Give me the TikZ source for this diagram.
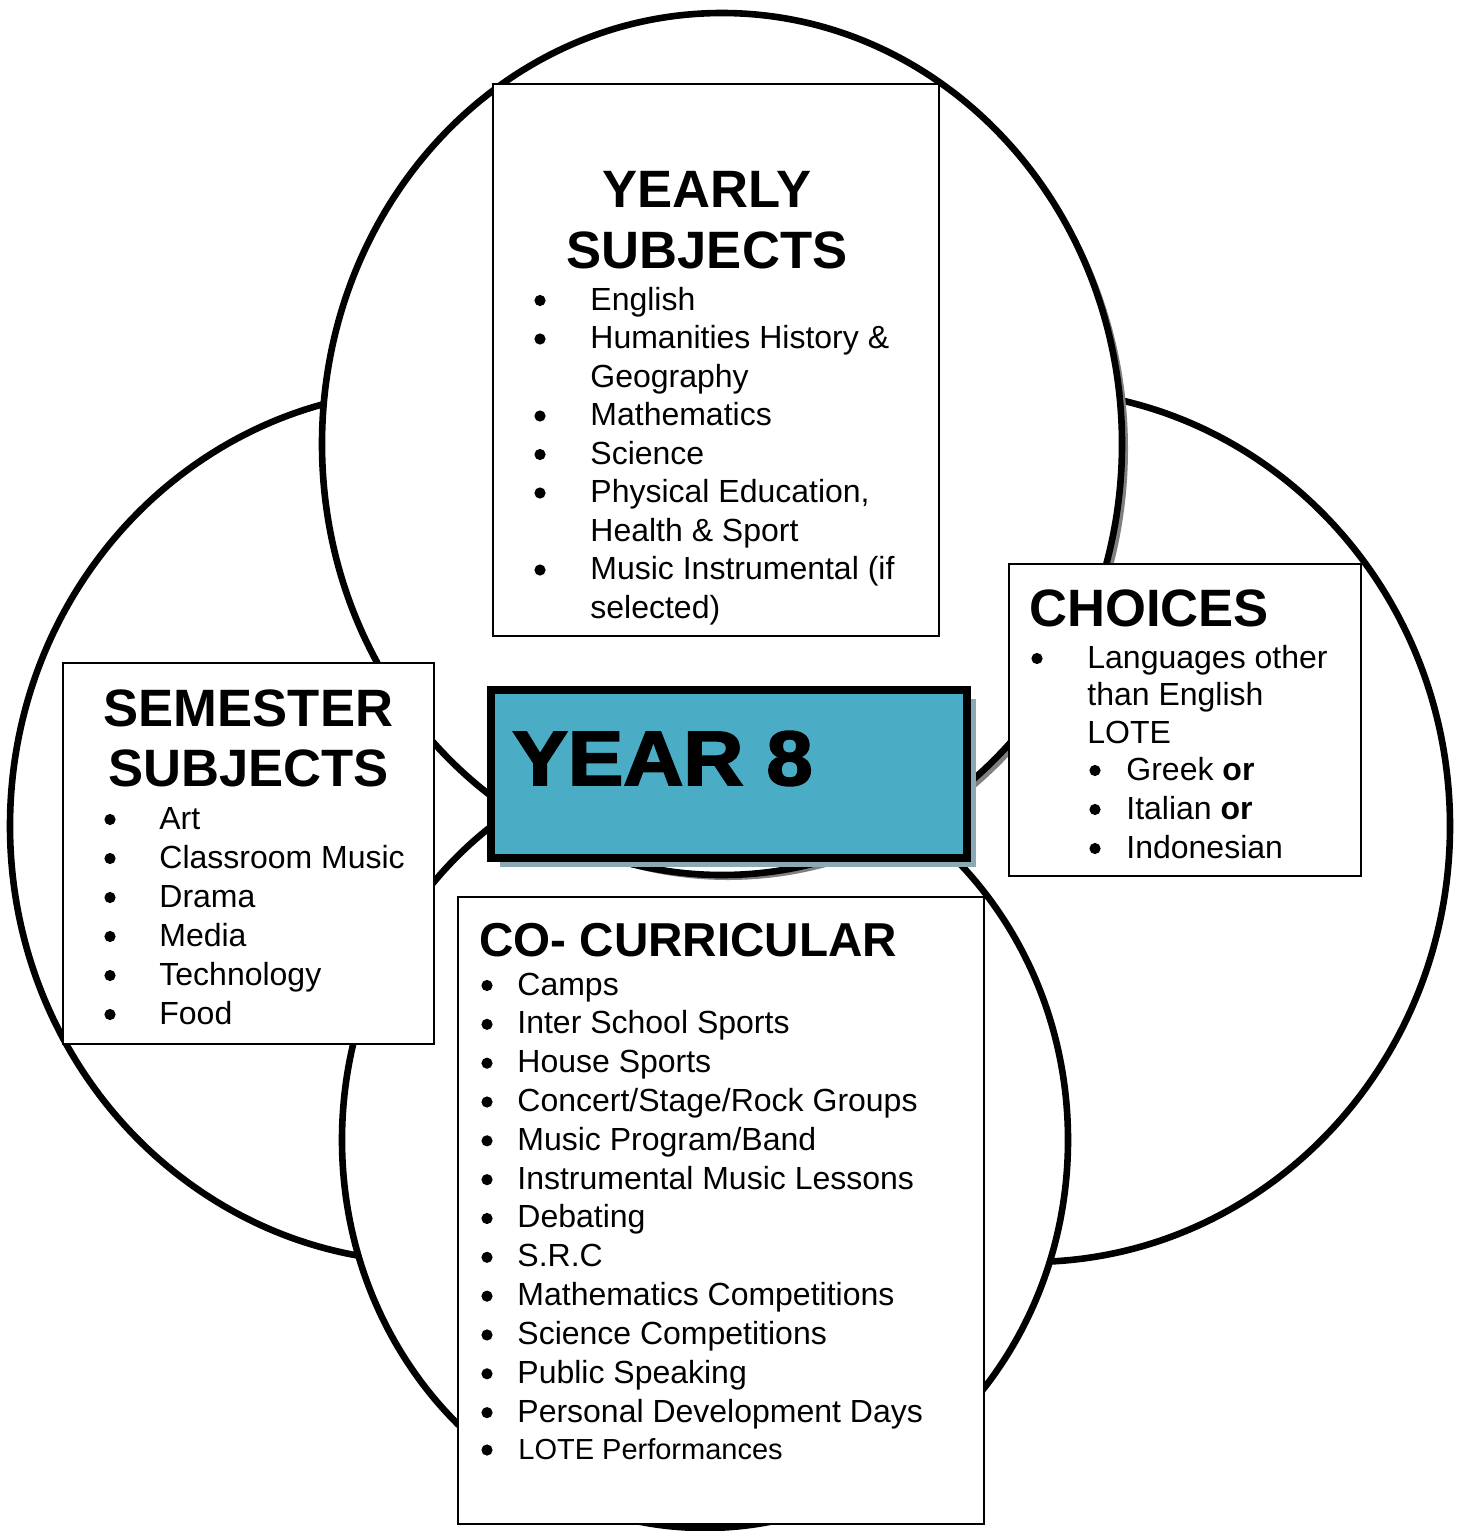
\documentclass[tikz,border=0pt]{standalone}
\usepackage{fontspec}
\setmainfont{Liberation Sans}
\newfontfamily\heavyfont{Liberation Sans Bold}[FakeBold=2.5, FakeStretch=1.08]
\usetikzlibrary{shadows}

\definecolor{yearteal}{RGB}{75,172,198}
\definecolor{yearshade}{RGB}{140,168,178}
\definecolor{ringshade}{RGB}{128,128,128}

\newcommand{\bodysize}{\fontsize{16pt}{19.3pt}\selectfont}
\newcommand{\headsize}{\fontsize{26.3pt}{30pt}\selectfont\bfseries}
\newcommand{\cosize}{\fontsize{23.8pt}{28pt}\selectfont\bfseries}
\newcommand{\yearsize}{\fontsize{38.5pt}{44pt}\selectfont\heavyfont}

\begin{document}
\begin{tikzpicture}[x=0.5pt, y=-0.5pt,
    ring/.style={draw, line width=3.3pt, fill=white},
    panel/.style={draw, line width=1pt, fill=white, inner sep=0pt},
    head/.style={anchor=base, inner sep=0pt, font=\headsize},
    entry/.style={anchor=base west, inner sep=0pt, font=\bodysize},
    blt/.style={circle, fill=black, inner sep=0pt, minimum size=5.6pt}]

    \useasboundingbox (0,0) rectangle (1462,1531);

    % the four rings, top one last
    \draw[ring] (430,826) ellipse [x radius=420, y radius=436];
    \draw[ring] (1030,826) ellipse [x radius=420, y radius=436];
    \draw[ring] (705,1140) ellipse [x radius=363, y radius=388];
    \fill[ringshade] (728,449) ellipse [x radius=400, y radius=431];
    \draw[ring] (722,444) ellipse [x radius=400, y radius=431];

    % panels
    \node[panel, minimum width=223pt, minimum height=276pt] (yearly) at (716,360) {};
    \node[panel, minimum width=185.5pt, minimum height=190.5pt] (semester) at (248.5,853.5) {};
    \node[panel, minimum width=176pt, minimum height=156pt] (choices) at (1185,720) {};
    \node[panel, minimum width=263pt, minimum height=313.5pt] (cocurr) at (721,1210.5) {};
    \node[panel, fill=yearteal, line width=4pt, minimum width=238pt, minimum height=84pt,
          drop shadow={shadow xshift=4.5pt, shadow yshift=-4.5pt, fill=yearshade, opacity=1}]
          (year8) at (729,774) {};

    \node[anchor=base west, inner sep=0pt, font=\yearsize] (year8txt) at (512,785) {YEAR 8};

    % yearly subjects
    \node[head] (yrA) at (707,207) {YEARLY};
    \node[head] (yrB) at (707,268) {SUBJECTS};
    \foreach \b/\t [count=\i from 0] in {1/English, 1/Humanities History \&, 0/Geography,
        1/Mathematics, 1/Science, 1/{Physical Education,}, 0/Health \& Sport,
        1/Music Instrumental (if, 0/selected)} {
        \node[entry] (yr\i) at (590,{310+38.5*\i}) {\t};
        \ifnum\b=1 \node[blt] (yrb\i) at (540,{300.5+38.5*\i}) {}; \fi
    }

    % semester subjects
    \node[head] (smA) at (248.5,726) {SEMESTER};
    \node[head] (smB) at (248.5,786) {SUBJECTS};
    \foreach \t [count=\i from 0] in {Art, Classroom Music, Drama, Media, Technology, Food} {
        \node[entry] (sm\i) at (159,{829+39*\i}) {\t};
        \node[blt] (smb\i) at (110,{819.5+39*\i}) {};
    }

    % choices
    \node[head, anchor=base west] (chA) at (1029,626) {CHOICES};
    \node[entry] (ch0) at (1087,668) {Languages other};
    \node[entry] (ch1) at (1087,705.5) {than English};
    \node[entry] (ch2) at (1087,743) {LOTE};
    \node[blt] (chb0) at (1037,658.5) {};
    \foreach \t [count=\i from 0] in {Greek \textbf{or}, Italian \textbf{or}, Indonesian} {
        \node[entry] (lg\i) at (1126,{780+39*\i}) {\t};
        \node[blt] (lgb\i) at (1095,{770.5+39*\i}) {};
    }

    % co-curricular
    \node[anchor=base west, inner sep=0pt, font=\cosize] (coA) at (479,956) {CO- CURRICULAR};
    \foreach \t [count=\i from 0] in {Camps, Inter School Sports, House Sports,
        Concert/Stage/Rock Groups, Music Program/Band, Instrumental Music Lessons,
        Debating, S.R.C, Mathematics Competitions, Science Competitions,
        Public Speaking, Personal Development Days} {
        \node[entry] (co\i) at (517,{995+38.83*\i}) {\t};
        \node[blt] (cob\i) at (487,{985.5+38.83*\i}) {};
    }
    \node[entry, font=\fontsize{14.5pt}{17pt}\selectfont] (co12) at (518,1459) {LOTE Performances};
    \node[blt] (cob12) at (487,1450) {};
\end{tikzpicture}
\end{document}
